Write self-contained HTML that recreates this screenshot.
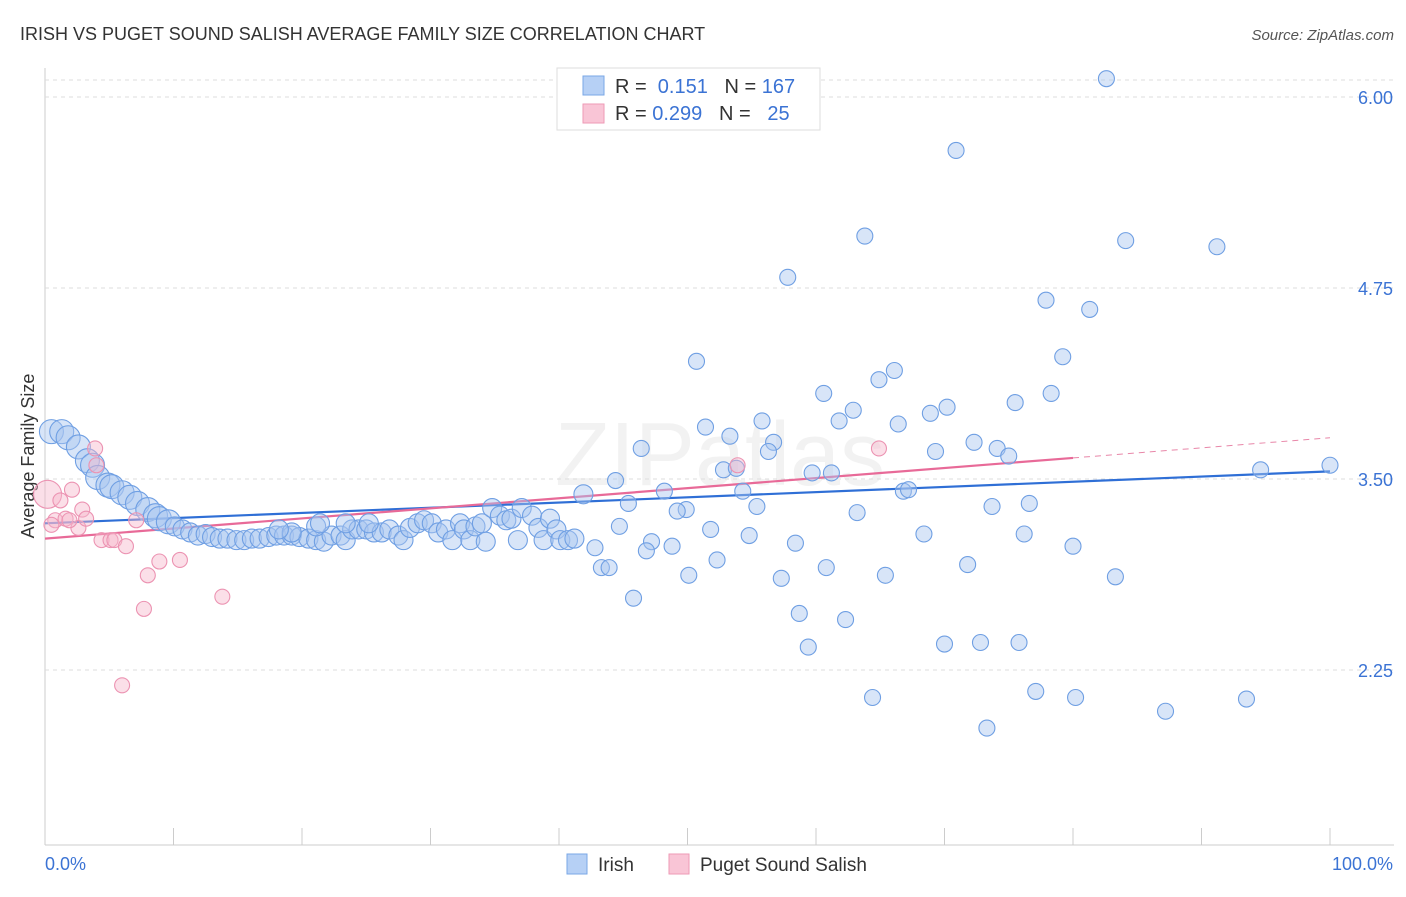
<!DOCTYPE html>
<html><head><meta charset="utf-8"><style>
body{margin:0;background:#fff;font-family:"Liberation Sans",sans-serif;}
svg text{font-family:"Liberation Sans",sans-serif;}
</style></head><body>
<svg id="chart" width="1406" height="892" xmlns="http://www.w3.org/2000/svg">
<text x="20" y="40" font-size="18" fill="#333">IRISH VS PUGET SOUND SALISH AVERAGE FAMILY SIZE CORRELATION CHART</text>
<text x="1394" y="40" font-size="15" fill="#555" font-style="italic" text-anchor="end">Source: ZipAtlas.com</text>
<text x="720" y="485" font-size="90" fill="#000" fill-opacity="0.05" text-anchor="middle" font-family="Liberation Serif">ZIPatlas</text>
<text transform="translate(34,456) rotate(-90)" font-size="18" fill="#333" text-anchor="middle">Average Family Size</text>
<g id="grid"></g><g id="trend"></g><g id="pts"></g>
<g>
<rect x="557" y="68" width="263" height="62" fill="#fff" stroke="#ddd"/>
<rect x="583" y="76" width="21" height="19" fill="#b6d0f5" stroke="#7aa7e6"/>
<rect x="583" y="104" width="21" height="19" fill="#f9c5d6" stroke="#ee9ab6"/>
<text x="615" y="93" font-size="20" fill="#333">R = <tspan fill="#3b73d4">&#160;0.151</tspan>&#160;&#160;&#160;N = <tspan fill="#3b73d4">167</tspan></text>
<text x="615" y="120" font-size="20" fill="#333">R = <tspan fill="#3b73d4">0.299</tspan>&#160;&#160;&#160;N = <tspan fill="#3b73d4">&#160;&#160;25</tspan></text>
</g>
<g>
<rect x="567" y="854" width="20" height="20" fill="#b6d0f5" stroke="#7aa7e6"/>
<text x="598" y="871" font-size="19" fill="#333">Irish</text>
<rect x="669" y="854" width="20" height="20" fill="#f9c5d6" stroke="#ee9ab6"/>
<text x="700" y="871" font-size="19" fill="#333">Puget Sound Salish</text>
</g>
<text x="45" y="870" font-size="18" fill="#3b73d4">0.0%</text>
<text x="1393" y="870" font-size="18" fill="#3b73d4" text-anchor="end">100.0%</text>
</svg>
<script>
const yTicks=[6.00,4.75,3.50,2.25];
const yTickLabels=["6.00","4.75","3.50","2.25"];
const irishX=[82.6,70.9,63.8,84.1,91.2,57.8,77.9,81.3,50.7,79.2,66.1,64.9,60.6,78.3,75.5,70.2,62.9,68.9,55.8,61.8,66.4,51.4,53.3,72.3,46.4,74.1,56.7,56.3,75.0,69.3,52.8,53.8,61.2,59.7,94.6,100,44.4,54.3,66.8,67.2,41.9,48.2,45.4,55.4,73.7,76.6,49.9,49.2,63.2,44.7,51.8,68.4,54.8,76.2,47.2,58.4,48.8,80.0,46.8,42.8,52.3,71.8,43.3,43.9,60.8,50.1,65.4,57.3,83.3,45.8,58.7,62.3,59.4,70.0,72.8,75.8,77.1,64.4,80.2,93.5,87.2,73.3,
0.5,1.3,1.8,2.6,3.3,3.7,4.1,4.9,5.2,6.0,6.6,7.2,8.0,8.6,8.9,9.6,10.1,10.7,11.3,11.9,12.5,13.0,13.6,14.2,14.9,15.5,16.1,16.7,17.4,18.0,18.6,19.2,19.8,20.5,21.1,21.7,22.3,23.0,23.4,23.9,24.4,25.0,25.6,26.2,26.8,27.5,27.9,28.4,29.0,29.5,30.1,30.6,31.2,31.7,32.3,32.6,33.1,33.5,34.0,34.3,34.8,35.4,35.9,36.3,36.8,37.1,37.9,38.4,38.8,39.3,39.8,40.1,40.7,41.2,21.1,21.4,19.2,18.2,23.4,25.2];
const irishY=[6.12,5.65,5.09,5.06,5.02,4.82,4.67,4.61,4.27,4.30,4.21,4.15,4.06,4.06,4.00,3.97,3.95,3.93,3.88,3.88,3.86,3.84,3.78,3.74,3.70,3.70,3.74,3.68,3.65,3.68,3.56,3.57,3.54,3.54,3.56,3.59,3.49,3.42,3.42,3.43,3.40,3.42,3.34,3.32,3.32,3.34,3.30,3.29,3.28,3.19,3.17,3.14,3.13,3.14,3.09,3.08,3.06,3.06,3.03,3.05,2.97,2.94,2.92,2.92,2.92,2.87,2.87,2.85,2.86,2.72,2.62,2.58,2.40,2.42,2.43,2.43,2.11,2.07,2.07,2.06,1.98,1.87,
3.81,3.81,3.77,3.71,3.62,3.59,3.51,3.46,3.45,3.41,3.38,3.34,3.30,3.26,3.24,3.22,3.19,3.17,3.15,3.13,3.14,3.12,3.11,3.11,3.10,3.10,3.11,3.11,3.12,3.13,3.13,3.13,3.12,3.11,3.10,3.09,3.13,3.13,3.10,3.17,3.17,3.17,3.15,3.15,3.17,3.13,3.10,3.18,3.21,3.23,3.21,3.15,3.17,3.10,3.21,3.17,3.10,3.19,3.21,3.09,3.31,3.26,3.23,3.24,3.10,3.31,3.26,3.18,3.10,3.24,3.17,3.10,3.10,3.11,3.19,3.21,3.15,3.17,3.21,3.21];
const pugetX=[0.2,0.8,1.2,1.6,2.1,2.6,2.9,3.2,3.9,4.0,4.4,5.1,5.4,6.3,7.1,7.7,8.0,8.9,10.5,13.8,6.0,53.9,64.9,0.5,1.9];
const pugetY=[3.40,3.23,3.36,3.24,3.43,3.18,3.30,3.24,3.70,3.59,3.10,3.10,3.10,3.06,3.23,2.65,2.87,2.96,2.97,2.73,2.15,3.59,3.70,3.20,3.23];
const irishTrend=[3.21,3.55];
const pugetTrend=[3.11,3.77];
const pugetSolidEnd=80;

const NS="http://www.w3.org/2000/svg";
const X=p=>45+p*12.85;
const Y=v=>479-(v-3.5)*152.8;
function mk(tag,attrs,parent){const e=document.createElementNS(NS,tag);for(const k in attrs)e.setAttribute(k,attrs[k]);parent.appendChild(e);return e;}
const grid=document.getElementById('grid');
let ax=mk('line',{x1:45,y1:68,x2:45,y2:845,stroke:'#ccc'},grid);


let bx=mk('line',{x1:45,y1:845,x2:1394,y2:845,stroke:'#ccc'},grid);


let tl=mk('line',{x1:45,y1:80,x2:1394,y2:80,stroke:'#ddd','stroke-dasharray':'4,4'},grid);


yTicks.forEach((v,i)=>{
  const g=mk('line',{x1:45,y1:Y(v),x2:1394,y2:Y(v),stroke:'#ddd','stroke-dasharray':'4,4'},grid);
  
  
  const t=mk('text',{x:1393,y:Y(v)+7,'font-size':18,fill:'#3b73d4','text-anchor':'end'},grid);
  t.textContent=yTickLabels[i];
  
  
});
for(let i=0;i<=10;i++){
  const t=mk('line',{x1:X(i*10),y1:828,x2:X(i*10),y2:845,stroke:'#ccc'},grid);
  
  
}
const pts=document.getElementById('pts');
irishX.forEach((x,i)=>{
  const r=x<10?12:(x<42?9.5:8);
  const c=mk('circle',{cx:X(x),cy:Y(irishY[i]),r:r,fill:'#a9c6f0','fill-opacity':0.45,stroke:'#6f9fe3','stroke-width':1.1},pts);
  
  
});
pugetX.forEach((x,i)=>{
  const r=i===0?14:7.5;
  const c=mk('circle',{cx:X(x),cy:Y(pugetY[i]),r:r,fill:'#f6b9cd','fill-opacity':0.45,stroke:'#ec93b2','stroke-width':1.1},pts);
  
  
});
const tr=document.getElementById('trend');
let l1=mk('line',{x1:X(0),y1:Y(irishTrend[0]),x2:X(100),y2:Y(irishTrend[1]),stroke:'#2f6fd6','stroke-width':2.2},tr);


const pAt=p=>pugetTrend[0]+(pugetTrend[1]-pugetTrend[0])*p/100;
let l2=mk('line',{x1:X(0),y1:Y(pAt(0)),x2:X(pugetSolidEnd),y2:Y(pAt(pugetSolidEnd)),stroke:'#e86a98','stroke-width':2.2},tr);


let l3=mk('line',{x1:X(pugetSolidEnd),y1:Y(pAt(pugetSolidEnd)),x2:X(100),y2:Y(pAt(100)),stroke:'#e886a8','stroke-width':1,'stroke-dasharray':'6,5'},tr);


</script>
</body></html>
